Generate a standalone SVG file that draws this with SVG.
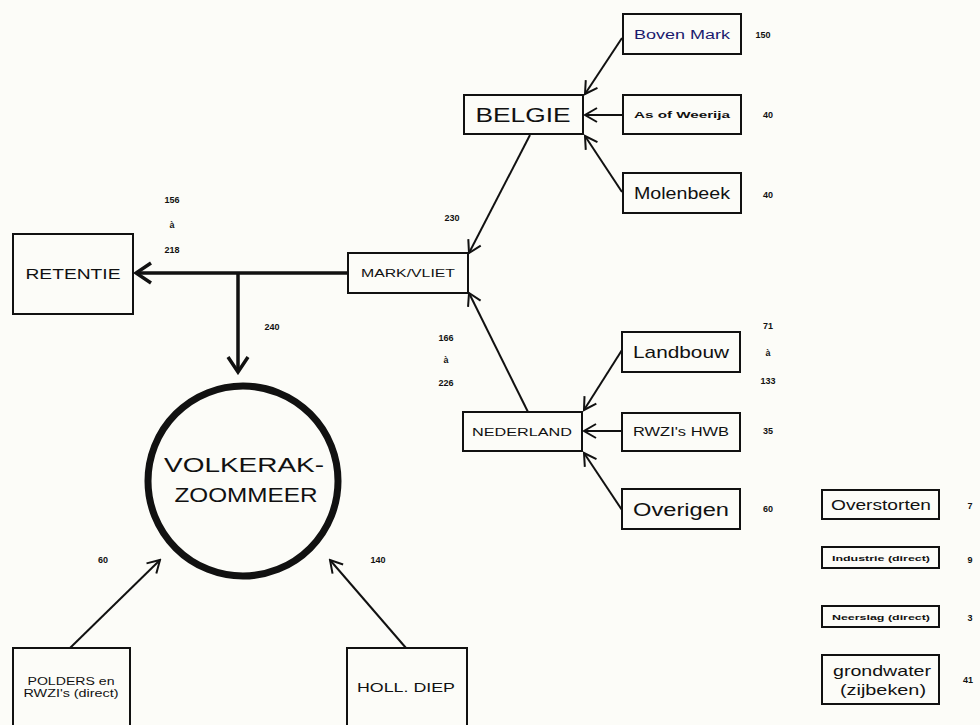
<svg xmlns="http://www.w3.org/2000/svg" width="980" height="725" viewBox="0 0 980 725">
<style>
text{font-family:"Liberation Sans",Arial,sans-serif;fill:#111;text-anchor:middle}
.box{fill:none;stroke:#111;stroke-width:2}
.ln{fill:none;stroke:#111;stroke-width:2}
.thick{fill:none;stroke:#111;stroke-width:3.5}
.num{font-size:9px;font-weight:bold}
</style>
<defs>
<marker id="ah" markerUnits="userSpaceOnUse" markerWidth="16" markerHeight="18" refX="14" refY="9" orient="auto"><path d="M2,2 L14,9 L2,16" fill="none" stroke="#111" stroke-width="2"/></marker>
<marker id="ahb" markerUnits="userSpaceOnUse" markerWidth="20" markerHeight="24" refX="17" refY="12" orient="auto"><path d="M2,2 L17,12 L2,22" fill="none" stroke="#111" stroke-width="3.5"/></marker>
</defs>
<rect width="980" height="725" fill="#fcfcf8"/>
<g id="connectors">
<line class="ln" x1="622" y1="38" x2="585" y2="94" marker-end="url(#ah)"/>
<line class="ln" x1="623" y1="115" x2="585" y2="115" marker-end="url(#ah)"/>
<line class="ln" x1="622" y1="192" x2="585" y2="136" marker-end="url(#ah)"/>
<line class="ln" x1="530" y1="135" x2="469" y2="253" marker-end="url(#ah)"/>
<line class="ln" x1="528" y1="412" x2="469" y2="293" marker-end="url(#ah)"/>
<line class="ln" x1="622" y1="350" x2="584" y2="410" marker-end="url(#ah)"/>
<line class="ln" x1="622" y1="431" x2="584" y2="431" marker-end="url(#ah)"/>
<line class="ln" x1="622" y1="510" x2="584" y2="453" marker-end="url(#ah)"/>
<line class="thick" x1="348" y1="273" x2="136" y2="273" marker-end="url(#ahb)"/>
<line class="thick" x1="238" y1="273" x2="238" y2="372" marker-end="url(#ahb)"/>
<line class="ln" x1="70" y1="648" x2="160" y2="560" marker-end="url(#ah)"/>
<line class="ln" x1="406" y1="648" x2="330" y2="560" marker-end="url(#ah)"/>
</g>
<g id="boven-mark"><rect class="box" x="623" y="14" width="118" height="40"/><text x="682" y="39" font-size="12.5" textLength="96" lengthAdjust="spacingAndGlyphs" style="fill:#1a1a6e">Boven Mark</text><text class="num" x="763" y="38">150</text></g>
<g id="belgie"><rect class="box" x="464" y="95" width="119" height="39"/><text x="523" y="122" font-size="21" textLength="95" lengthAdjust="spacingAndGlyphs">BELGIE</text></g>
<g id="as-of-weerija"><rect class="box" x="623" y="95" width="118" height="39"/><text x="682" y="118" font-size="9" font-weight="bold" textLength="96" lengthAdjust="spacingAndGlyphs">As of Weerija</text><text class="num" x="768" y="118">40</text></g>
<g id="molenbeek"><rect class="box" x="623" y="173" width="118" height="40"/><text x="682" y="199" font-size="16" textLength="96" lengthAdjust="spacingAndGlyphs">Molenbeek</text><text class="num" x="768" y="198">40</text></g>
<g id="mark-vliet"><rect class="box" x="348" y="253" width="120" height="40"/><text x="408" y="277" font-size="10" textLength="94" lengthAdjust="spacingAndGlyphs">MARK/VLIET</text><text class="num" x="452" y="221">230</text></g>
<g id="retentie"><rect class="box" x="13" y="234" width="120" height="80"/><text x="73" y="279" font-size="14" textLength="95" lengthAdjust="spacingAndGlyphs">RETENTIE</text><text class="num" x="172" y="203">156</text><text class="num" x="172" y="228">à</text><text class="num" x="172" y="253">218</text><text class="num" x="272" y="330">240</text></g>
<g id="nederland"><rect class="box" x="463" y="412" width="119" height="39"/><text x="522" y="436" font-size="10.5" textLength="100" lengthAdjust="spacingAndGlyphs">NEDERLAND</text><text class="num" x="446" y="341">166</text><text class="num" x="446" y="363">à</text><text class="num" x="446" y="386">226</text></g>
<g id="landbouw"><rect class="box" x="622" y="332" width="118" height="40"/><text x="681" y="358" font-size="17" textLength="96" lengthAdjust="spacingAndGlyphs">Landbouw</text><text class="num" x="768" y="329">71</text><text class="num" x="768" y="356">à</text><text class="num" x="768" y="384">133</text></g>
<g id="rwzi-hwb"><rect class="box" x="622" y="413" width="118" height="38"/><text x="681" y="436" font-size="12" textLength="96" lengthAdjust="spacingAndGlyphs">RWZI's HWB</text><text class="num" x="768" y="434">35</text></g>
<g id="overigen"><rect class="box" x="622" y="489" width="118" height="40"/><text x="681" y="516" font-size="18" textLength="96" lengthAdjust="spacingAndGlyphs">Overigen</text><text class="num" x="768" y="512">60</text></g>
<g id="volkerak-zoommeer"><circle cx="243" cy="481" r="95" fill="none" stroke="#111" stroke-width="7"/><text x="244" y="472" font-size="21" textLength="160" lengthAdjust="spacingAndGlyphs">VOLKERAK-</text><text x="246" y="502" font-size="21" textLength="143" lengthAdjust="spacingAndGlyphs">ZOOMMEER</text></g>
<g id="polders"><rect class="box" x="13" y="648" width="117" height="80"/><text x="71" y="685" font-size="10" textLength="87" lengthAdjust="spacingAndGlyphs">POLDERS en</text><text x="71" y="697" font-size="10" textLength="95" lengthAdjust="spacingAndGlyphs">RWZI's (direct)</text><text class="num" x="103" y="563">60</text></g>
<g id="holl-diep"><rect class="box" x="347" y="648" width="120" height="80"/><text x="406" y="692" font-size="13" textLength="98" lengthAdjust="spacingAndGlyphs">HOLL. DIEP</text><text class="num" x="378" y="563">140</text></g>
<g id="overstorten"><rect class="box" x="822" y="490" width="117" height="29"/><text x="881" y="510" font-size="14" textLength="100" lengthAdjust="spacingAndGlyphs">Overstorten</text><text class="num" x="970" y="509">7</text></g>
<g id="industrie"><rect class="box" x="822" y="547" width="117" height="21"/><text x="881" y="561" font-size="8" font-weight="bold" textLength="98" lengthAdjust="spacingAndGlyphs">Industrie (direct)</text><text class="num" x="970" y="563">9</text></g>
<g id="neerslag"><rect class="box" x="822" y="606" width="117" height="21"/><text x="881" y="620" font-size="8" font-weight="bold" textLength="98" lengthAdjust="spacingAndGlyphs">Neerslag (direct)</text><text class="num" x="970" y="621">3</text></g>
<g id="grondwater"><rect class="box" x="822" y="655" width="117" height="49"/><text x="882" y="676" font-size="15" textLength="98" lengthAdjust="spacingAndGlyphs">grondwater</text><text x="883" y="695" font-size="15" textLength="86" lengthAdjust="spacingAndGlyphs">(zijbeken)</text><text class="num" x="968" y="683">41</text></g>
</svg>
